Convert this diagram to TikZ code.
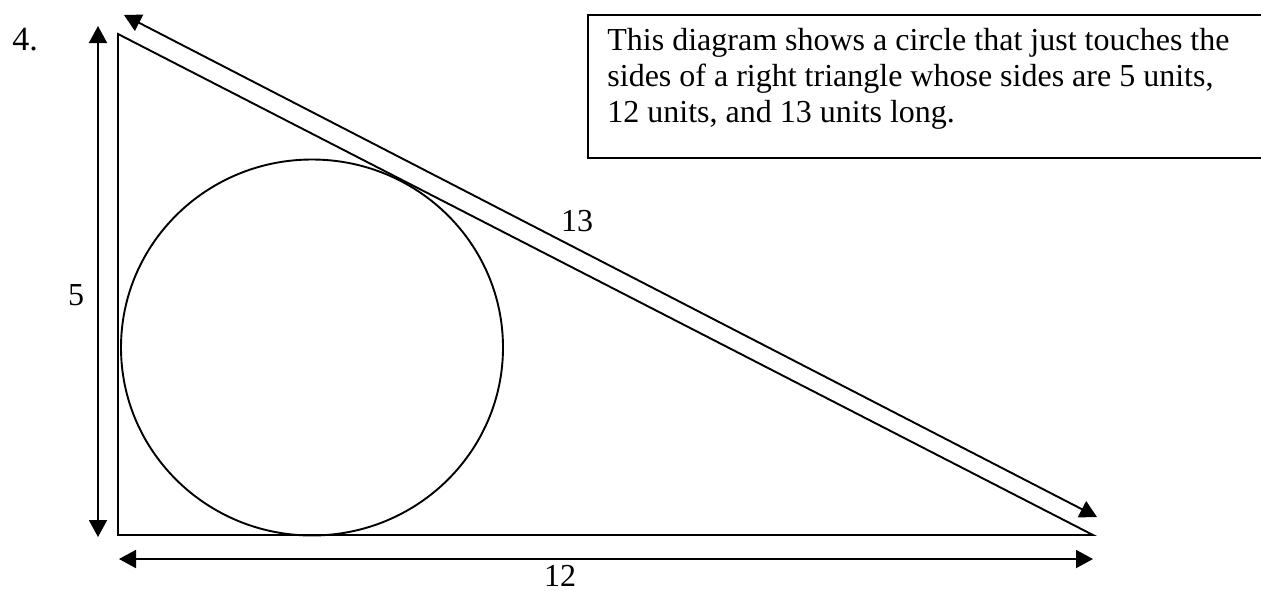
\documentclass[tikz,border=0pt]{standalone}
\usepackage{fontspec}
\setmainfont{Liberation Serif}
\usetikzlibrary{arrows.meta}
\begin{document}
\begin{tikzpicture}[x=0.5pt,y=-0.5pt,
  edge/.style={line width=0.95pt},
  dimarrow/.style={line width=0.95pt,{Triangle[length=8.5pt,width=9pt]}-{Triangle[length=8.5pt,width=9pt]}},
  lbl/.style={font=\fontsize{16}{18}\selectfont, inner sep=0pt},
  textbox/.style={draw, line width=0.95pt, anchor=north west, inner sep=0pt,
    minimum width=341.5pt, minimum height=71.5pt}]
\useasboundingbox (0,0) rectangle (1261,590);
% triangle
\coordinate (A) at (118,34);
\coordinate (B) at (118,535);
\coordinate (C) at (1093,535);
\draw[edge] (A) -- (B) -- (C) -- cycle;
% inscribed circle
\draw[edge] (312,347.5) ellipse [x radius=191, y radius=188];
% dimension arrows
\coordinate (v1) at (98,26);
\coordinate (v2) at (98,537);
\coordinate (h1) at (119,559);
\coordinate (h2) at (1093,559);
\coordinate (d1) at (124,15);
\coordinate (d2) at (1097,517);
\draw[dimarrow] (v1) -- (v2);
\draw[dimarrow] (h1) -- (h2);
\draw[dimarrow] (d1) -- (d2);
% labels
\node[lbl] (n5) at (76,295) {5};
\node[lbl] (n13) at (577,221) {13};
\node[lbl, anchor=base] (n12) at (560,586) {12};
\node[lbl, font=\fontsize{17}{19}\selectfont, anchor=base west] (num) at (12,50) {4.};
% text box (cut off at the right edge)
\begin{scope}
\clip (0,0) rectangle (1261,590);
\node[textbox] (box) at (587,14) {};
\end{scope}
\node[lbl, anchor=north west, align=left] (desc) at (607,28)
  {This diagram shows a circle that just touches the\\
   sides of a right triangle whose sides are 5 units,\\
   12 units, and 13 units long.};
\end{tikzpicture}
\end{document}
